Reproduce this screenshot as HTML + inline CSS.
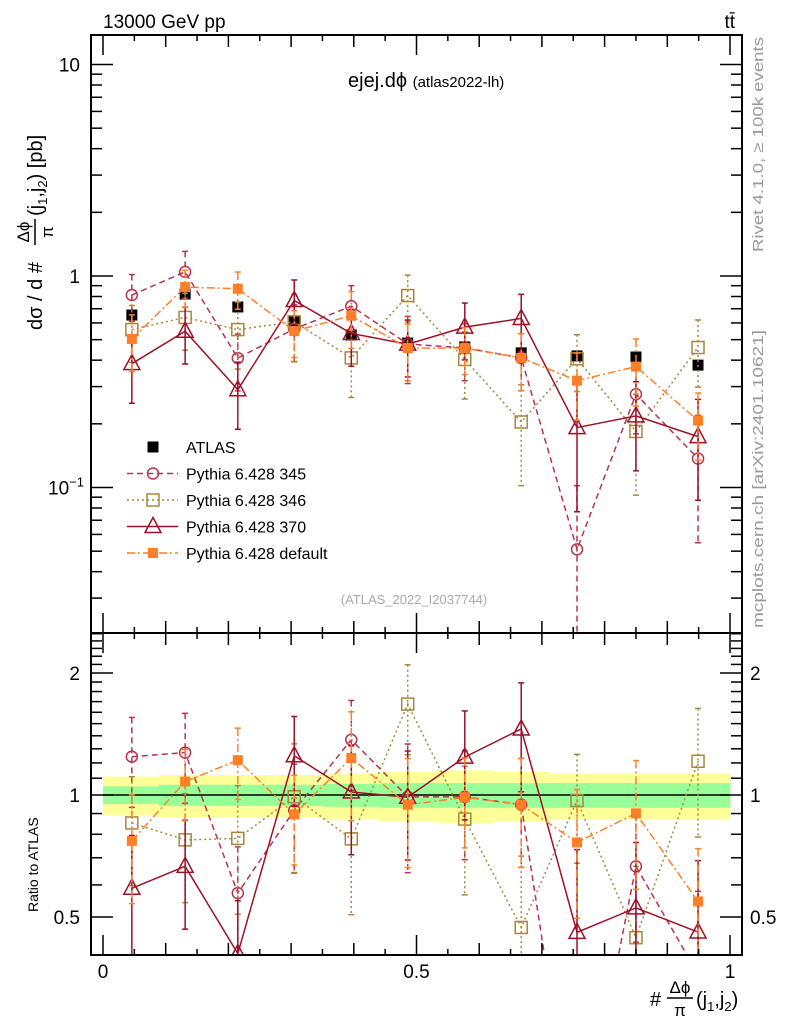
<!DOCTYPE html>
<html><head><meta charset="utf-8"><style>
html,body{margin:0;padding:0;background:#fff;overflow:hidden;width:786px;height:1024px;}
svg{display:block;font-family:"Liberation Sans",sans-serif;}
</style></head><body>
<svg id="chart" width="786" height="1024" viewBox="0 0 786 1024">
<text x="103" y="28" font-size="19">13000 GeV pp</text>
<text x="735" y="28" font-size="19" text-anchor="end">tt̄</text>
<text x="348" y="87" font-size="20">ejej.dϕ <tspan font-size="15">(atlas2022-lh)</tspan></text>
<text x="414" y="604" font-size="13" fill="#aaa" text-anchor="middle">(ATLAS_2022_I2037744)</text>
<text transform="translate(763,252) rotate(-90)" font-size="15" fill="#999" textLength="215" lengthAdjust="spacingAndGlyphs">Rivet 4.1.0, ≥ 100k events</text>
<text transform="translate(763,628) rotate(-90)" font-size="15" fill="#999" textLength="298" lengthAdjust="spacingAndGlyphs">mcplots.cern.ch [arXiv:2401.10621]</text>
<g transform="translate(42,330) rotate(-90)">
<text x="0" y="0" font-size="20">dσ / d #</text>
<text x="98" y="-13" font-size="17" text-anchor="middle">Δϕ</text>
<line x1="85" x2="111" y1="-7" y2="-7" stroke="#000" stroke-width="1.5"/>
<text x="98" y="11" font-size="17" text-anchor="middle">π</text>
<text x="114" y="0" font-size="20">(j<tspan font-size="13" dy="5">1</tspan><tspan dy="-5">,j</tspan><tspan font-size="13" dy="5">2</tspan><tspan dy="-5">) [pb]</tspan></text>
</g>
<text transform="translate(38,912) rotate(-90)" font-size="14">Ratio to ATLAS</text>
<g>
<text x="650" y="1006" font-size="20">#</text>
<text x="680" y="993" font-size="17" text-anchor="middle">Δϕ</text>
<line x1="667" x2="693" y1="998" y2="998" stroke="#000" stroke-width="1.5"/>
<text x="680" y="1016" font-size="17" text-anchor="middle">π</text>
<text x="696" y="1006" font-size="20">(j<tspan font-size="13" dy="5">1</tspan><tspan dy="-5">,j</tspan><tspan font-size="13" dy="5">2</tspan><tspan dy="-5">)</tspan></text>
</g>
<g id="layer"></g>
</svg>
<script>
const xCenters=[0.046,0.131,0.215,0.305,0.396,0.486,0.577,0.667,0.756,0.850,0.949];
const atlas=[0.654,0.822,0.714,0.613,0.526,0.482,0.462,0.433,0.419,0.414,0.379];
const atlasErr=[0.05,0.05,0.05,0.05,0.05,0.05,0.05,0.05,0.05,0.05,0.05];
const p345=[0.813,1.046,0.409,0.562,0.72,0.477,0.457,0.41,0.051,0.276,0.137];
const p346=[0.558,0.637,0.558,0.607,0.41,0.808,0.403,0.204,0.406,0.184,0.459];
const p370=[0.385,0.548,0.29,0.766,0.535,0.476,0.573,0.63,0.192,0.218,0.174];
const pdef=[0.504,0.887,0.87,0.549,0.649,0.456,0.456,0.41,0.32,0.373,0.207];
const e345=[0.25,0.25,0.3,0.3,0.25,0.35,0.3,0.3,1.0,0.35,0.6];
const e346=[0.3,0.3,0.35,0.35,0.35,0.25,0.35,0.5,0.3,0.5,0.35];
const e370=[0.35,0.3,0.35,0.25,0.3,0.3,0.3,0.3,0.6,0.45,0.5];
const edef=[0.3,0.2,0.2,0.25,0.3,0.3,0.25,0.3,0.35,0.35,0.35];
const bandYellow=[0.11,0.12,0.12,0.12,0.13,0.14,0.15,0.14,0.13,0.13,0.13];
const bandGreen=[0.05,0.06,0.06,0.06,0.065,0.07,0.07,0.07,0.07,0.07,0.07];
const xTickLabels=["0","0.5","1"];
const mainTickLabels=["10","1","10⁻¹"];
const ratioTickLabels=["2","1","0.5"];

const NS="http://www.w3.org/2000/svg";
const L=document.getElementById('layer');
const X0=91,X1=742,MT=35,MB=633,RB=955;
function sx(v){return 103+627*v;}
function sy(v){return 276-211.5*Math.log10(v);}
function ry(v){return 795-122*Math.log2(v);}
function mk(tag,a,parent){const e=document.createElementNS(NS,tag);for(const k in a)e.setAttribute(k,a[k]);(parent||L).appendChild(e);return e;}

const defs=mk('defs',{});
const c1=mk('clipPath',{id:'cm'},defs);mk('rect',{x:X0,y:MT,width:X1-X0,height:MB-MT},c1);
const c2=mk('clipPath',{id:'cr'},defs);mk('rect',{x:X0,y:MB,width:X1-X0,height:RB-MB},c2);

const edges=[0];for(let i=0;i<xCenters.length-1;i++)edges.push((xCenters[i]+xCenters[i+1])/2);edges.push(1);
const bandG=mk('g',{'clip-path':'url(#cr)'});


for(let i=0;i<xCenters.length;i++){
  const y1=mk('rect',{x:sx(edges[i]),y:ry(1+bandYellow[i]),width:sx(edges[i+1])-sx(edges[i])+0.5,height:ry(1-bandYellow[i])-ry(1+bandYellow[i]),fill:'#ffff99'},bandG);
  
  
  const g1=mk('rect',{x:sx(edges[i]),y:ry(1+bandGreen[i]),width:sx(edges[i+1])-sx(edges[i])+0.5,height:ry(1-bandGreen[i])-ry(1+bandGreen[i]),fill:'#99ff99'},bandG);
  
  
}
const one=mk('line',{x1:sx(0),x2:sx(1),y1:ry(1),y2:ry(1),stroke:'#000','stroke-width':1.5});



const series=[
 {name:'pythia-345',label:'Pythia 6.428 345',v:p345,e:e345,c:'#b8334f',dash:'6,4',m:'circle'},
 {name:'pythia-346',label:'Pythia 6.428 346',v:p346,e:e346,c:'#a8873a',dash:'2,3',m:'osquare'},
 {name:'pythia-370',label:'Pythia 6.428 370',v:p370,e:e370,c:'#9e1028',dash:'',m:'triangle'},
 {name:'pythia-default',label:'Pythia 6.428 default',v:pdef,e:edef,c:'#ff7f27',dash:'8,3,2,3',m:'fsquare'}
];
function marker(g,m,x,y,c){
  let el;
  if(m==='circle')el=mk('circle',{cx:x,cy:y,r:5.5,fill:'none',stroke:c,'stroke-width':1.5},g);
  else if(m==='osquare')el=mk('rect',{x:x-6,y:y-6,width:12,height:12,fill:'none',stroke:c,'stroke-width':1.5},g);
  else if(m==='fsquare')el=mk('rect',{x:x-5,y:y-5,width:10,height:10,fill:c},g);
  else if(m==='bsquare')el=mk('rect',{x:x-5.5,y:y-5.5,width:11,height:11,fill:'#000'},g);
  else el=mk('polygon',{points:`${x},${y-9} ${x-8},${y+6} ${x+8},${y+6}`,fill:'none',stroke:c,'stroke-width':1.5},g);
  
  
}
function drawSeries(s,ratio){
  const fy=ratio?ry:sy;
  const g=mk('g',{'clip-path':ratio?'url(#cr)':'url(#cm)'});
  
  
  const vals=s.v.map((v,i)=>ratio?v/atlas[i]:v);
  const pts=vals.map((v,i)=>sx(xCenters[i])+','+fy(v)).join(' ');
  const pl=mk('polyline',{points:pts,fill:'none',stroke:s.c,'stroke-width':1.5,'stroke-dasharray':s.dash},g);
  
  
  vals.forEach((v,i)=>{
    const x=sx(xCenters[i]);
    const hi=fy(v*(1+s.e[i])),lo=fy(Math.max(v*(1-s.e[i]),0.001));
    const eb=mk('line',{x1:x,x2:x,y1:hi,y2:lo,stroke:s.c,'stroke-width':1.5,'stroke-dasharray':s.dash},g);
    
    
    mk('line',{x1:x-3,x2:x+3,y1:hi,y2:hi,stroke:s.c,'stroke-width':1.5},g);
    mk('line',{x1:x-3,x2:x+3,y1:lo,y2:lo,stroke:s.c,'stroke-width':1.5},g);
    marker(g,s.m,x,fy(v),s.c);
  });
}
const ga=mk('g',{'clip-path':'url(#cm)'});


atlas.forEach((v,i)=>{
  const x=sx(xCenters[i]);
  marker(ga,'bsquare',x,sy(v),'#000');
  mk('line',{x1:x,x2:x,y1:sy(v*(1+atlasErr[i])),y2:sy(v*(1-atlasErr[i])),stroke:'#000','stroke-width':1},ga);
});
series.forEach(s=>{drawSeries(s,false);drawSeries(s,true);});

const fr1=mk('rect',{x:X0,y:MT,width:X1-X0,height:MB-MT,fill:'none',stroke:'#000','stroke-width':2});


const fr2=mk('rect',{x:X0,y:MB,width:X1-X0,height:RB-MB,fill:'none',stroke:'#000','stroke-width':2});



for(let k=0;k<=20;k++){
  const v=k*0.05,x=sx(v);
  const len=(k%10===0)?20:(k%2===0?12:6);
  [[MT,1],[MB,-1],[MB,1],[RB,-1]].forEach(([y,d])=>mk('line',{x1:x,x2:x,y1:y,y2:y+d*len,stroke:'#000','stroke-width':1.5}));
}
xTickLabels.forEach((t,i)=>{
  const el=mk('text',{x:sx(i*0.5),y:978,'font-size':19,'text-anchor':'middle'});el.textContent=t;
  
  
});
for(let d=-2;d<=1;d++){for(let m=1;m<=9;m++){
  const v=m*Math.pow(10,d),y=sy(v);if(y<MT||y>MB)continue;
  const len=m===1?22:11;
  mk('line',{x1:X0,x2:X0+len,y1:y,y2:y,stroke:'#000','stroke-width':1.5});
  mk('line',{x1:X1,x2:X1-len,y1:y,y2:y,stroke:'#000','stroke-width':1.5});
}}
mainTickLabels.forEach((t,i)=>{
  const v=Math.pow(10,1-i);
  const el=mk('text',{x:i===2?84:80,y:sy(v)+7,'font-size':19,'text-anchor':'end'});
  if(i===2){el.innerHTML='10<tspan font-size="13" dy="-8">−1</tspan>';}else el.textContent=t;
  
  
});
for(let k=4;k<=25;k++){
  const v=k/10,y=ry(v);if(y<MB||y>RB)continue;
  const len=(k===5||k===10||k===20)?22:11;
  mk('line',{x1:X0,x2:X0+len,y1:y,y2:y,stroke:'#000','stroke-width':1.5});
  mk('line',{x1:X1,x2:X1-len,y1:y,y2:y,stroke:'#000','stroke-width':1.5});
}
ratioTickLabels.forEach((t,i)=>{
  const v=[2,1,0.5][i];
  const a=mk('text',{x:80,y:ry(v)+7,'font-size':19,'text-anchor':'end'});a.textContent=t;
  
  
  const b=mk('text',{x:750,y:ry(v)+7,'font-size':19});b.textContent=t;
  
  
});
const lg=mk('g',{});


const ly0=447,ldy=26.5;
const e0=mk('g',{},lg);


marker(e0,'bsquare',153,ly0,'#000');
const t0=mk('text',{x:186,y:ly0+6,'font-size':16},e0);t0.textContent='ATLAS';
series.forEach((s,i)=>{
  const y=ly0+ldy*(i+1);
  const e=mk('g',{},lg);
  
  
  mk('line',{x1:127,x2:178,y1:y,y2:y,stroke:s.c,'stroke-width':1.5,'stroke-dasharray':s.dash},e);
  marker(e,s.m,153,y,s.c);
  const t=mk('text',{x:186,y:y+6,'font-size':16},e);t.textContent=s.label;
});
</script>
</body></html>
